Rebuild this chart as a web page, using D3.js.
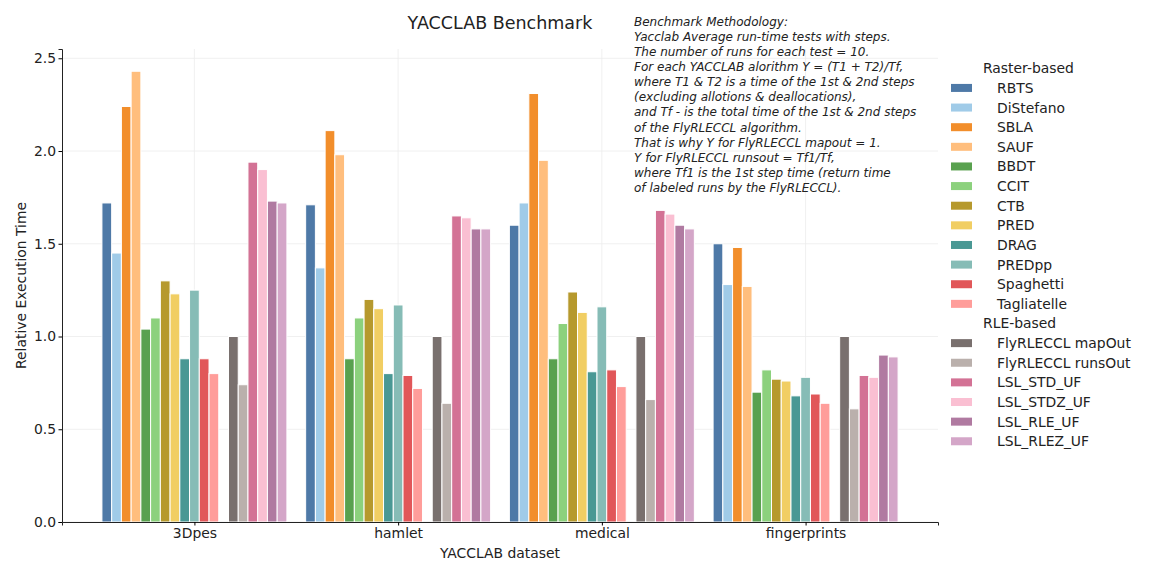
<!DOCTYPE html>
<html>
<head>
<meta charset="utf-8">
<script src="https://cdn.jsdelivr.net/npm/d3@7"></script>
<style>
  html, body { margin: 0; padding: 0; background: #fff; overflow: hidden; }
  svg { display: block; }
  text { font-family: "DejaVu Sans", sans-serif; fill: #222; }
</style>
</head>
<body>
<div id="chart"></div>
<script>
// datasets along the x axis
const datasets = ["3Dpes", "hamlet", "medical", "fingerprints"];

// algorithm names, split in the two legend groups
const rasterAlgos = ["RBTS", "DiStefano", "SBLA", "SAUF", "BBDT", "CCIT", "CTB", "PRED",
                     "DRAG", "PREDpp", "Spaghetti", "Tagliatelle"];
const rleAlgos = ["FlyRLECCL mapOut", "FlyRLECCL runsOut", "LSL_STD_UF", "LSL_STDZ_UF",
                  "LSL_RLE_UF", "LSL_RLEZ_UF"];

// relative execution time, one array per dataset (raster algos then rle algos)
const vals3Dpes =       [1.72, 1.45, 2.24, 2.43, 1.04, 1.10, 1.30, 1.23, 0.88, 1.25, 0.88, 0.80,
                         1.00, 0.74, 1.94, 1.90, 1.73, 1.72];
const valsHamlet =      [1.71, 1.37, 2.11, 1.98, 0.88, 1.10, 1.20, 1.15, 0.80, 1.17, 0.79, 0.72,
                         1.00, 0.64, 1.65, 1.64, 1.58, 1.58];
const valsMedical =     [1.60, 1.72, 2.31, 1.95, 0.88, 1.07, 1.24, 1.13, 0.81, 1.16, 0.82, 0.73,
                         1.00, 0.66, 1.68, 1.66, 1.60, 1.58];
const valsFingerprints = [1.50, 1.28, 1.48, 1.27, 0.70, 0.82, 0.77, 0.76, 0.68, 0.78, 0.69, 0.64,
                          1.00, 0.61, 0.79, 0.78, 0.90, 0.89];

const yTicks = [0, 0.5, 1.0, 1.5, 2.0, 2.5];

const colors = ["#4e79a7", "#a0cbe8", "#f28e2b", "#ffbe7d", "#59a14f", "#8cd17d",
                "#b6992d", "#f1ce63", "#499894", "#86bcb6", "#e15759", "#ff9d9a",
                "#79706e", "#bab0ac", "#d37295", "#fabfd2", "#b07aa1", "#d4a6c8"];

const notes = [
  "Benchmark Methodology:",
  "Yacclab Average run-time tests with steps.",
  "The number of runs for each test = 10.",
  "For each YACCLAB alorithm Y = (T1 + T2)/Tf,",
  "where T1 & T2 is a time of the 1st & 2nd steps",
  "(excluding allotions & deallocations),",
  "and Tf - is the total time of the 1st & 2nd steps",
  "of the FlyRLECCL algorithm.",
  "That is why Y for FlyRLECCL mapout = 1.",
  "Y for FlyRLECCL runsout = Tf1/Tf,",
  "where Tf1 is the 1st step time (return time",
  "of labeled runs by the FlyRLECCL)."
];

const allAlgos = rasterAlgos.concat(rleAlgos);
const valueRows = [vals3Dpes, valsHamlet, valsMedical, valsFingerprints];
const data = [];
datasets.forEach((ds, i) => {
    allAlgos.forEach((a, j) => {
        data.push({ dataset: ds, algo: a, value: valueRows[i][j], color: colors[j] });
    });
});

const w = 1152, h = 576;
const margin = { top: 49, right: 214, bottom: 54, left: 62 };
const innerWidth = w - margin.left - margin.right;
const innerHeight = h - margin.top - margin.bottom;

const svg = d3.select("#chart").append("svg")
    .attr("viewBox", `0 0 ${w} ${h}`)
    .attr("preserveAspectRatio", "xMinYMin meet")
    .style("width", "100%")
    .style("height", "auto")
    .style("max-width", w + "px");

const g = svg.append("g")
    .attr("transform", `translate(${margin.left},${margin.top})`);

const xScale = d3.scalePoint()
    .domain(datasets)
    .range([0, innerWidth])
    .padding(0.65);

// slots within a group: raster bars, an empty gap, rle bars
const slots = rasterAlgos.concat(["__gap"], rleAlgos);
const groupWidth = xScale.step() * 0.908;
const slotScale = d3.scaleBand()
    .domain(slots)
    .range([-groupWidth / 2, groupWidth / 2]);

const yScale = d3.scaleLinear()
    .domain([0, 2.55])
    .range([innerHeight, 0]);

// grid
g.append("g").selectAll("line.hg")
    .data(yTicks)
    .enter().append("line")
    .attr("x1", 0).attr("x2", innerWidth)
    .attr("y1", d => yScale(d)).attr("y2", d => yScale(d))
    .attr("stroke", "#ececec").attr("stroke-width", 0.8);
g.append("g").selectAll("line.vg")
    .data(datasets)
    .enter().append("line")
    .attr("x1", d => xScale(d)).attr("x2", d => xScale(d))
    .attr("y1", 0).attr("y2", innerHeight)
    .attr("stroke", "#ececec").attr("stroke-width", 0.8);

// bars
g.append("g").selectAll("rect")
    .data(data)
    .enter().append("rect")
    .attr("x", d => xScale(d.dataset) + slotScale(d.algo))
    .attr("width", slotScale.bandwidth())
    .attr("y", d => yScale(d.value))
    .attr("height", d => innerHeight - yScale(d.value))
    .attr("fill", d => d.color)
    .attr("stroke", "#fff")
    .attr("stroke-width", 1);

// axes
const yAxis = d3.axisLeft(yScale).tickValues(yTicks).tickFormat(d3.format(".1f")).tickSizeOuter(0).tickSize(3.5);
const yAxisG = g.append("g").call(yAxis);
yAxisG.select(".domain").attr("stroke", "#222");
yAxisG.selectAll("text").style("font-size", "13.9px").attr("x", -6);

const xAxis = d3.axisBottom(xScale).tickSizeOuter(0).tickSize(3.5);
const xAxisG = g.append("g").attr("transform", `translate(0,${innerHeight})`).call(xAxis);
xAxisG.select(".domain").attr("stroke", "#222");
xAxisG.selectAll("text").style("font-size", "13.9px").attr("dy", "0.71em").attr("y", 6);

// labels
svg.append("text")
    .attr("x", margin.left + innerWidth / 2)
    .attr("y", 29)
    .attr("text-anchor", "middle")
    .style("font-size", "17.5px")
    .text("YACCLAB Benchmark");

svg.append("text")
    .attr("x", margin.left + innerWidth / 2)
    .attr("y", 558)
    .attr("text-anchor", "middle")
    .style("font-size", "13.9px")
    .text("YACCLAB dataset");

svg.append("text")
    .attr("transform", `translate(26,${margin.top + innerHeight / 2}) rotate(-90)`)
    .attr("text-anchor", "middle")
    .style("font-size", "13.9px")
    .text("Relative Execution Time");

// methodology note, one text per line
svg.append("g").selectAll("text")
    .data(notes)
    .enter().append("text")
    .attr("x", 634)
    .attr("y", (d, i) => 25.5 + i * 15.15)
    .style("font-size", "12px")
    .style("font-style", "italic")
    .text(d => d);

// legend
const legendRows = [{ header: "Raster-based" }]
    .concat(rasterAlgos.map((a, i) => ({ label: a, color: colors[i] })))
    .concat([{ header: "RLE-based" }])
    .concat(rleAlgos.map((a, i) => ({ label: a, color: colors[rasterAlgos.length + i] })));

const legend = svg.append("g").attr("transform", "translate(951,68.3)");
const rows = legend.selectAll("g")
    .data(legendRows)
    .enter().append("g")
    .attr("transform", (d, i) => `translate(0,${i * 19.63})`);

rows.filter(d => d.header).append("text")
    .attr("x", 32)
    .attr("y", 5)
    .style("font-size", "13.9px")
    .text(d => d.header);

rows.filter(d => !d.header).append("rect")
    .attr("x", 0).attr("y", -4)
    .attr("width", 21).attr("height", 8)
    .attr("fill", d => d.color);

rows.filter(d => !d.header).append("text")
    .attr("x", 46)
    .attr("y", 5)
    .style("font-size", "13.9px")
    .text(d => d.label);
</script>
</body>
</html>
